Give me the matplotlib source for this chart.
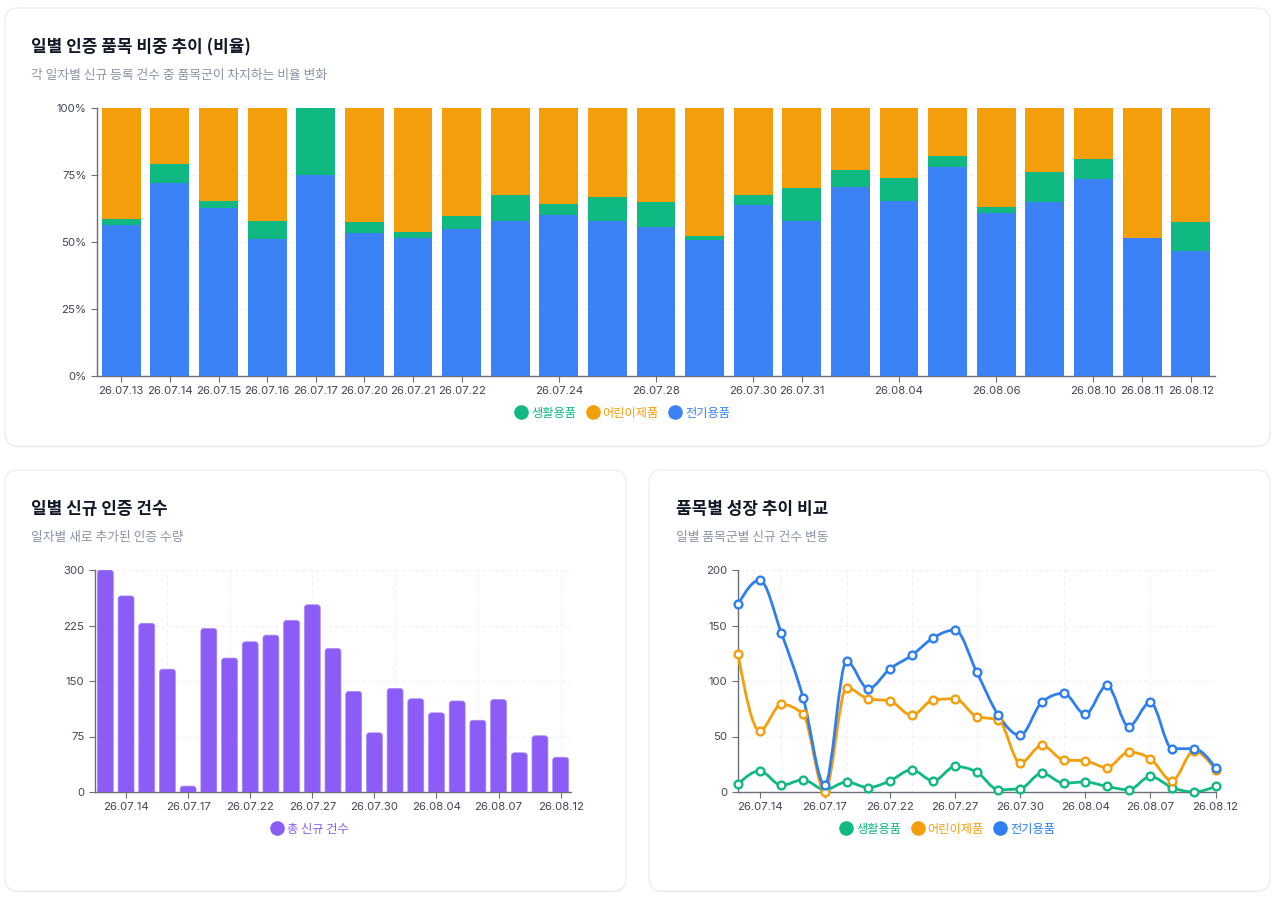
import numpy as np
import matplotlib
matplotlib.use("Agg")
import matplotlib.pyplot as plt
from matplotlib.patches import FancyBboxPatch, PathPatch
from matplotlib.path import Path
from matplotlib.lines import Line2D

plt.rcParams['font.family'] = ['Noto Sans CJK KR', 'DejaVu Sans']

# ---------------- data ----------------
dates = ["26.07.13", "26.07.14", "26.07.15", "26.07.16", "26.07.17", "26.07.20",
         "26.07.21", "26.07.22", "26.07.23", "26.07.24", "26.07.27", "26.07.28",
         "26.07.29", "26.07.30", "26.07.31", "26.08.03", "26.08.04", "26.08.05",
         "26.08.06", "26.08.07", "26.08.10", "26.08.11", "26.08.12"]
series_names = ["생활용품", "어린이제품", "전기용품"]
living = [7, 19, 6, 11, 2, 9, 4, 10, 20, 10, 23, 18, 2, 3, 17, 8, 9, 5, 2, 14, 4, 0, 5]
kids = [124, 55, 79, 70, 0, 94, 84, 82, 69, 83, 84, 68, 65, 26, 42, 29, 28, 22, 36, 30, 10, 37, 20]
electric = [169, 191, 143, 85, 6, 118, 93, 111, 123, 139, 146, 108, 69, 51, 81, 89, 70, 96, 59, 81, 39, 39, 22]
total_label = "총 신규 건수"

top_tick_idx = [0, 1, 2, 3, 4, 5, 6, 7, 9, 11, 13, 14, 16, 18, 20, 21, 22]
bottom_tick_idx = [1, 4, 7, 10, 13, 16, 19, 22]
pct_ticks = [0, 25, 50, 75, 100]
count_ticks = [0, 75, 150, 225, 300]
line_ticks = [0, 50, 100, 150, 200]

# ---------------- style ----------------
C_GREEN = "#10b981"
C_ORANGE = "#f59e0b"
C_BLUE = "#3b82f6"
C_LINE_BLUE = "#2f7ef0"
C_PURPLE = "#8b5cf6"
C_TITLE = "#111827"
C_SUB = "#8a94a6"
C_TICK = "#3f4654"
C_AXIS = "#6b6f76"
C_GRID = "#efefef"
TICK_FONT = ['Inter', 'Noto Sans CJK KR', 'DejaVu Sans']

W, H = 1280, 902
fig = plt.figure(figsize=(W / 100, H / 100), dpi=100)
fig.patch.set_facecolor("white")


def card(x0, y0, x1, y1):
    sh = FancyBboxPatch((x0 / 100, (H - y1 - 1.5) / 100), (x1 - x0) / 100, (y1 - y0) / 100,
                        boxstyle="round,pad=0,rounding_size=0.13",
                        transform=fig.dpi_scale_trans, facecolor="#f3f4f6",
                        edgecolor="none", zorder=-3)
    fig.patches.append(sh)
    p = FancyBboxPatch((x0 / 100, (H - y1) / 100), (x1 - x0) / 100, (y1 - y0) / 100,
                       boxstyle="round,pad=0,rounding_size=0.13",
                       transform=fig.dpi_scale_trans, facecolor="white",
                       edgecolor="#eceef1", linewidth=1.0, zorder=-2)
    fig.patches.append(p)


card(5, 8, 1270, 446)
card(5, 470, 626, 891)
card(649, 470, 1270, 891)


def ax_rect(l, t, r, b):
    return [l / W, 1 - b / H, (r - l) / W, (b - t) / H]


def ftext(x, y, s, **kw):
    fig.text(x / W, 1 - y / H, s, va="center", ha="left", **kw)


def style_axes(ax):
    for side in ["top", "right"]:
        ax.spines[side].set_visible(False)
    for side in ["left", "bottom"]:
        ax.spines[side].set_color(C_AXIS)
        ax.spines[side].set_linewidth(1.0)
    ax.tick_params(axis="both", direction="out", length=4.5, width=0.8,
                   color=C_AXIS, labelcolor=C_TICK, labelsize=8.2, pad=3)
    for lab in ax.get_xticklabels() + ax.get_yticklabels():
        lab.set_fontfamily(TICK_FONT)
    ax.set_facecolor("none")


def legend(cx, cy, names, colors):
    handles = [Line2D([], [], marker="o", ls="", markersize=10.5, color=c,
                      markeredgewidth=0) for c in colors]
    lg = fig.legend(handles, names, loc="center", bbox_to_anchor=(cx / W, 1 - cy / H),
                    ncol=len(names), frameon=False, handlelength=0.9, handletextpad=0.35,
                    columnspacing=0.9, fontsize=8.8, borderaxespad=0)
    for t, c in zip(lg.get_texts(), colors):
        t.set_color(c)


x = np.arange(len(dates))

# ---------------- top: stacked percentage bars ----------------
ftext(31, 47, "일별 인증 품목 비중 추이 (비율)", fontsize=12.2, fontweight="bold", color=C_TITLE)
ftext(31, 75, "각 일자별 신규 등록 건수 중 품목군이 차지하는 비율 변화", fontsize=9.2, color=C_SUB)

ax1 = fig.add_axes(ax_rect(97, 108, 1215, 376))
liv = np.array(living, float)
kid = np.array(kids, float)
ele = np.array(electric, float)
tot = liv + kid + ele
p_ele = ele / tot * 100
p_liv = liv / tot * 100
p_kid = kid / tot * 100
bw = 0.8
ax1.bar(x, p_ele, width=bw, color=C_BLUE, linewidth=0, zorder=3)
ax1.bar(x, p_liv, width=bw, bottom=p_ele, color=C_GREEN, linewidth=0, zorder=3)
ax1.bar(x, p_kid, width=bw, bottom=p_ele + p_liv, color=C_ORANGE, linewidth=0, zorder=3)
ax1.set_xlim(-0.5, len(dates) - 0.5)
ax1.set_ylim(0, 100)
ax1.set_yticks(pct_ticks)
ax1.set_yticklabels([f"{v}%" for v in pct_ticks])
ax1.set_xticks(top_tick_idx)
ax1.set_xticklabels([dates[i] for i in top_tick_idx])
ax1.yaxis.grid(True, color=C_GRID, linestyle=(0, (3, 3)), linewidth=0.8, zorder=0)
style_axes(ax1)
legend(623, 413, series_names, [C_GREEN, C_ORANGE, C_BLUE])

# ---------------- bottom-left: total bars ----------------
ftext(31, 509, "일별 신규 인증 건수", fontsize=12.2, fontweight="bold", color=C_TITLE)
ftext(31, 538, "일자별 새로 추가된 인증 수량", fontsize=9.2, color=C_SUB)

ax2 = fig.add_axes(ax_rect(95, 570, 571, 792))
ax2.set_xlim(-0.5, len(dates) - 0.5)
ax2.set_ylim(0, 300)
bars = ax2.bar(x, tot, width=0.77, color=C_PURPLE, zorder=3)
fig.canvas.draw()
bbox = ax2.get_window_extent()
px_per_x = bbox.width / 23.0
px_per_y = bbox.height / 300.0
r_x = 3.0 / px_per_x
aspect = px_per_x / px_per_y
for rect in bars:
    bx, by = rect.get_x(), rect.get_y()
    bwid, bh = rect.get_width(), rect.get_height()
    rect.set_visible(False)
    ext = 6.0 / px_per_y
    fp = FancyBboxPatch((bx, by - ext), bwid, bh + ext,
                        boxstyle=f"round,pad=0,rounding_size={r_x}",
                        mutation_aspect=aspect, facecolor=C_PURPLE,
                        edgecolor="#a78bfa", linewidth=0.5, zorder=3, clip_on=True)
    ax2.add_patch(fp)
    fp.set_clip_path(ax2.patch)
ax2.set_yticks(count_ticks)
ax2.set_xticks(bottom_tick_idx)
ax2.set_xticklabels([dates[i] for i in bottom_tick_idx])
for gx in [3, 6, 10, 14, 18, 22]:
    ax2.axvline(gx, color=C_GRID, linestyle=(0, (3, 3)), linewidth=0.8, zorder=0)
for gy in count_ticks[1:]:
    ax2.axhline(gy, color=C_GRID, linestyle=(0, (3, 3)), linewidth=0.8, zorder=0)
style_axes(ax2)
legend(310, 829, [total_label], [C_PURPLE])

# ---------------- bottom-right: smooth lines ----------------
ftext(676, 509, "품목별 성장 추이 비교", fontsize=12.2, fontweight="bold", color=C_TITLE)
ftext(676, 538, "일별 품목군별 신규 건수 변동", fontsize=9.2, color=C_SUB)

ax3 = fig.add_axes(ax_rect(738, 570, 1215.5, 792))
ax3.set_xlim(0, len(dates) - 1)
ax3.set_ylim(0, 200)


def monotone_path(xs, ys):
    xs = np.asarray(xs, float)
    ys = np.asarray(ys, float)
    n = len(xs)
    h = np.diff(xs)
    s = np.diff(ys) / h
    t = np.zeros(n)
    for i in range(1, n - 1):
        p = (s[i - 1] * h[i] + s[i] * h[i - 1]) / (h[i - 1] + h[i])
        sg = (1 if s[i - 1] >= 0 else -1) + (1 if s[i] >= 0 else -1)
        t[i] = sg * min(abs(s[i - 1]), abs(s[i]), 0.5 * abs(p))
    t[0] = (3 * s[0] - t[1]) / 2
    t[-1] = (3 * s[-1] - t[-2]) / 2
    verts = [(xs[0], ys[0])]
    codes = [Path.MOVETO]
    for i in range(n - 1):
        d = h[i] / 3
        verts += [(xs[i] + d, ys[i] + d * t[i]), (xs[i + 1] - d, ys[i + 1] - d * t[i + 1]),
                  (xs[i + 1], ys[i + 1])]
        codes += [Path.CURVE4] * 3
    return Path(verts, codes)


for vals, col in [(living, C_GREEN), (kids, C_ORANGE), (electric, C_LINE_BLUE)]:
    pp = PathPatch(monotone_path(x, vals), facecolor="none", edgecolor=col,
                   linewidth=2.0, zorder=3, capstyle="round", joinstyle="round")
    ax3.add_patch(pp)
    ax3.plot(x, vals, ls="", marker="o", markersize=5.6, markerfacecolor="white",
             markeredgecolor=col, markeredgewidth=1.7, zorder=4, clip_on=False)

ax3.set_yticks(line_ticks)
ax3.set_xticks(bottom_tick_idx)
ax3.set_xticklabels([dates[i] for i in bottom_tick_idx])
for gx in [2, 5, 8, 11, 15, 19, 22]:
    ax3.axvline(gx, color=C_GRID, linestyle=(0, (3, 3)), linewidth=0.8, zorder=0)
for gy in line_ticks[1:]:
    ax3.axhline(gy, color=C_GRID, linestyle=(0, (3, 3)), linewidth=0.8, zorder=0)
style_axes(ax3)
legend(948, 829, series_names, [C_GREEN, C_ORANGE, C_LINE_BLUE])

fig.savefig("out.png", dpi=100, facecolor="white")
